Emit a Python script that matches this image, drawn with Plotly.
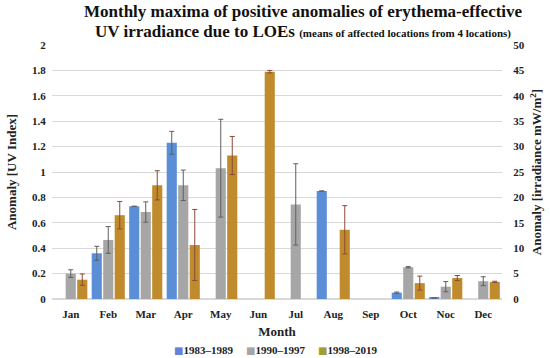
import plotly.graph_objects as go

months = ["Jan", "Feb", "Mar", "Apr", "May", "Jun", "Jul", "Aug", "Sep", "Oct", "Noc", "Dec"]
series_names = ["1983–1989", "1990–1997", "1998–2019"]

vals_1983 = [None, 0.36, 0.73, 1.23, None, None, None, 0.85, None, 0.05, 0.008, None]
err_1983 = [0, 0.055, 0, 0.09, 0, 0, 0, 0, 0, 0.005, 0, 0]

vals_1990 = [0.2, 0.465, 0.685, 0.895, 1.03, None, 0.745, None, None, 0.25, 0.097, 0.14]
err_1990 = [0.03, 0.105, 0.08, 0.12, 0.385, 0, 0.32, 0, 0, 0.005, 0.04, 0.035]

vals_1998 = [0.152, 0.66, 0.895, 0.425, 1.13, 1.79, None, 0.545, None, 0.125, 0.165, 0.135]
err_1998 = [0.045, 0.108, 0.115, 0.28, 0.15, 0.01, 0, 0.19, 0, 0.055, 0.02, 0.005]

title_line1 = "Monthly maxima of positive anomalies of erythema-effective"
title_line2 = "UV irradiance due to LOEs"
title_note = "(means of affected locations from 4 locations)"

colors = ["#5A8ED6", "#A6A6A6", "#BF8B2C"]
legend_colors = ["#6A80D8", "#A6A6A6", "#A0A032"]
err_colors = ["#5f5f5f", "#5f5f5f", "#8a4a3a"]

serif = "Liberation Serif"

fig = go.Figure()
for name, v, e, c, ec in zip(series_names, [vals_1983, vals_1990, vals_1998],
                             [err_1983, err_1990, err_1998], colors, err_colors):
    fig.add_trace(go.Bar(
        x=months, y=v, name=name, marker_color=c, marker_line_width=0, showlegend=False,
        error_y=dict(type="data", array=e, visible=True, color=ec, thickness=1, width=2.5),
    ))

# dummy trace to show right axis
fig.add_trace(go.Scatter(x=[], y=[], yaxis="y2", showlegend=False))

# compact legend (coloured square + label) as text
legend_x = [0.2667, 0.4267, 0.5867]
annotations = []
for name, lc, lx in zip(series_names, legend_colors, legend_x):
    annotations.append(dict(
        text=f"<span style='color:{lc};font-family:DejaVu Sans;font-size:10px'>■</span>{name}",
        xref="paper", yref="paper", x=lx, y=-0.2, xanchor="left", yanchor="middle",
        showarrow=False, font=dict(family=serif, size=11, color="#222", weight="bold"),
    ))

annotations += [
    dict(text=title_line1, xref="paper", yref="paper", x=0.558, y=1.13,
         xanchor="center", yanchor="middle", showarrow=False,
         font=dict(family=serif, size=17, color="#111", weight="bold")),
    dict(text=f"{title_line2} <span style='font-size:11px'>{title_note}</span>",
         xref="paper", yref="paper", x=0.558, y=1.053,
         xanchor="center", yanchor="middle", showarrow=False,
         font=dict(family=serif, size=17, color="#111", weight="bold")),
]

fig.update_layout(
    width=550, height=358,
    margin=dict(l=52, r=48, t=45, b=59),
    paper_bgcolor="white", plot_bgcolor="white",
    barmode="group", bargap=0.08, bargroupgap=0.12,
    font=dict(family=serif, size=12, color="#222"),
    showlegend=False,
    xaxis=dict(
        title=dict(text="Month", font=dict(family=serif, size=13, weight="bold"), standoff=7),
        tickfont=dict(family=serif, size=11, weight="bold"),
        showline=False, ticks="outside", ticklen=5, tickcolor="rgba(0,0,0,0)",
        showgrid=False, automargin=True,
    ),
    yaxis=dict(
        title=dict(text="Anomaly [UV Index]", font=dict(family=serif, size=13, weight="bold"), standoff=12),
        range=[0, 2], dtick=0.2, tickformat="~g",
        gridcolor="#D9D9D9", gridwidth=1, zeroline=True, zerolinecolor="#D9D9D9",
        tickfont=dict(family=serif, size=11, weight="bold"), showline=False,
        ticks="outside", ticklen=3, tickcolor="rgba(0,0,0,0)", automargin=False,
    ),
    yaxis2=dict(
        title=dict(text="Anomaly [irradiance mW/m<sup>2</sup>]", font=dict(family=serif, size=13, weight="bold"), standoff=8),
        range=[0, 50], dtick=5, overlaying="y", side="right", showgrid=False, zeroline=False,
        tickfont=dict(family=serif, size=11, weight="bold"), showline=False,
        ticks="outside", ticklen=8, tickcolor="rgba(0,0,0,0)", automargin=False,
    ),
    annotations=annotations,
)

fig.write_html("out.html", config={"displayModeBar": False},
               post_script="document.body.style.margin='0';")
